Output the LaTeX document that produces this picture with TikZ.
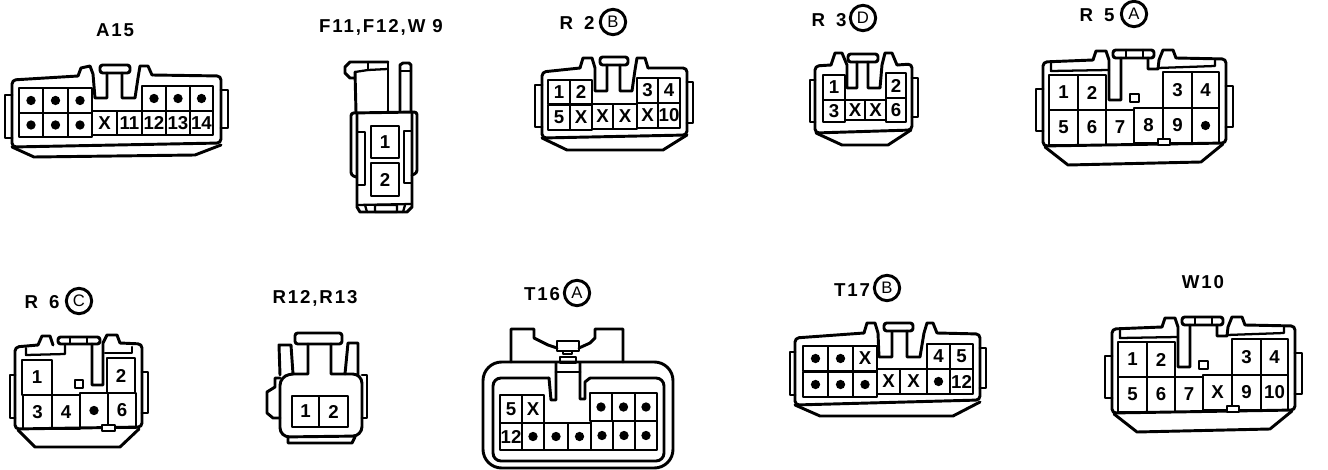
\documentclass[tikz,border=0pt]{standalone}
\usepackage{fontspec}
\setmainfont{Liberation Sans}
\newfontfamily\ttl[LetterSpace=10]{Liberation Sans}
\newcount\nodeno
\newcommand{\gapsp}{\hspace{1.5pt} \hspace{1.5pt}}
\tikzset{
  body/.style={line width=2.2pt,line join=round,line cap=round},
  thin/.style={line width=1.7pt,line join=round,line cap=round},
  pinlabel/.style={inner sep=0pt,font=\fontsize{14}{14}\selectfont\bfseries},
  title/.style={inner sep=0pt,font=\ttl\fontsize{14}{14}\selectfont\bfseries},
  badge/.style={circle,draw,line width=2.2pt,inner sep=0pt,minimum size=19pt,font=\fontsize{12.5}{12.5}\selectfont},
}
\def\dk{D}
% cells in one row: y1, y2, list of x1/x2/content (D = dot)
\newcommand{\cellrow}[3]{%
  \foreach \a/\b/\t in {#3}{%
    \draw[thin] (\a,#1) rectangle (\b,#2);
    \edef\tmp{\t}%
    \ifx\tmp\dk
      \fill ({(\a+\b)/2},{(#1+#2)/2}) circle (3.5pt);
    \else
      \global\advance\nodeno by 1
      \node[pinlabel] (pin\the\nodeno) at ({(\a+\b)/2},{(#1+#2)/2}) {\t};
    \fi
  }%
}
% the ten-way housing shared by R5 and W10 (drawn at W10 position)
\newcommand{\tenbody}{%
  \draw[body,rounded corners=3pt] (1162,327) -- (1112,329) -- (1112,413) -- (1295,410) -- (1295,326) -- (1245,325);
  \draw[body] (1162,327) -- (1165,318) -- (1175,318) -- (1178,327) -- (1178,367) -- (1190,367) -- (1190,325);
  \draw[body] (1217,325) -- (1217,336) -- (1227,336) -- (1228,327) -- (1232,317) -- (1242,317) -- (1245,325);
  \draw[body,rounded corners=2pt] (1182,317) rectangle (1223,325);
  \draw[thin] (1195,317) -- (1195,325) (1212,317) -- (1212,325);
  \draw[thin] (1120,330) -- (1120,338) -- (1178,337);
  \draw[thin] (1227,335) -- (1284,333) -- (1284,327);
  \draw[thin] (1199,361) rectangle (1208,369);
  \draw[body] (1112,356) -- (1105,356) -- (1105,398) -- (1112,398);
  \draw[body] (1295,353) -- (1302,353) -- (1302,394) -- (1295,394);
  \draw[body] (1114,414) -- (1137,432) -- (1270,429) -- (1292,411);
  \cellrow{342}{377}{1118/1147/1,1147/1175/2}
  \cellrow{339}{375}{1232/1261/3,1261/1288/4}
}
\begin{document}
\begin{tikzpicture}[x=0.75pt,y=-0.75pt]
\fill[white] (0,0) rectangle (1328,470);
\useasboundingbox (0,0) rectangle (1328,470);

% ---------- A15
\node[title] (tA) at (115,30) {A15};
\draw[body,rounded corners=3pt] (78,76) -- (12,80) -- (12,147) -- (221,143) -- (221,76) -- (152,75);
\draw[body] (78,76) -- (81,68) -- (90,66) -- (93,74) -- (95,98) -- (107,98) -- (107,73);
\draw[body] (122,73) -- (122,98) -- (135,98) -- (138,78) -- (140,66) -- (148,66) -- (152,75);
\draw[body,rounded corners=2pt] (100,65) rectangle (130,73);
\draw[body] (12,95) -- (5,95) -- (5,138) -- (12,138);
\draw[body] (221,90) -- (228,90) -- (228,128) -- (221,128);
\draw[body] (12,147) -- (34,157) -- (195,155) -- (221,145);
\cellrow{88}{113}{19/43/D,43/68/D,68/92/D}
\cellrow{113}{137}{19/43/D,43/68/D,68/92/D}
\cellrow{86}{111}{142/166/D,166/190/D,190/213/D}
\cellrow{111}{135}{92/117/X,117/142/11,142/166/12,166/190/13,190/213/14}

% ---------- F11, F12, W9
\node[title] (tF) at (381,27) {F11,F12,W 9};
\draw[body] (388,62) -- (350,62) -- (345,67) -- (345,73) -- (350,78) -- (355,78);
\draw[body] (388,62) -- (388,111);
\draw[thin] (368,62) -- (368,70);
\draw[thin] (355,72) -- (368,70) -- (388,69);
\draw[body] (355,72) -- (356,112);
\draw[body] (400,111) -- (400,65) -- (403,63) -- (409,63) -- (411,65) -- (411,111);
\draw[thin] (401,71) -- (411,71);
\draw[body,rounded corners=2pt] (356,177) -- (351,175) -- (351,113) -- (417,112) -- (417,173) -- (412,175);
\draw[body] (357,113) -- (357,207) -- (360,212) -- (407,212) -- (412,207) -- (412,112);
\draw[thin] (357,205) -- (412,204);
\draw[thin] (365,205) -- (367,212) (375,205) rectangle (397,212) (405,205) -- (403,212);
\draw[thin] (358,132) -- (365,132) -- (365,185) -- (358,185);
\draw[thin] (411,131) -- (404,131) -- (404,183) -- (411,183);
\cellrow{126}{158}{371/399/1}
\cellrow{163}{196}{371/399/2}

% ---------- R2
\node[title] (tR2) at (577,23) {R\gapsp 2};
\node[badge] (bR2) at (613,22) {B};
\draw[body,rounded corners=3pt] (580,68) -- (542,72) -- (542,138) -- (687,135) -- (687,68) -- (648,68);
\draw[body] (580,68) -- (583,58) -- (592,58) -- (595,68) -- (595,91) -- (607,91) -- (607,65);
\draw[body] (620,65) -- (620,91) -- (632,91) -- (635,70) -- (637,58) -- (645,58) -- (648,68);
\draw[body,rounded corners=2pt] (600,57) rectangle (628,65);
\draw[body] (542,85) -- (535,85) -- (535,127) -- (542,127);
\draw[body] (687,82) -- (693,82) -- (693,123) -- (687,123);
\draw[body] (542,138) -- (567,150) -- (663,150) -- (687,135);
\cellrow{80}{104}{548/570/1,570/592/2}
\cellrow{105}{130}{548/570/5,570/592/X}
\cellrow{104}{129}{592/613/X,613/637/X}
\cellrow{78}{103}{637/658/3,658/680/4}
\cellrow{103}{128}{637/658/X,658/680/10}

% ---------- R3
\node[title] (tR3) at (829,20) {R\gapsp 3};
\node[badge] (bR3) at (863,18) {D};
\draw[body,rounded corners=3pt] (831,65) -- (815,66) -- (815,133) -- (912,130) -- (912,64) -- (897,65);
\draw[body] (831,65) -- (835,53) -- (842,53) -- (847,65) -- (847,88) -- (857,88) -- (857,62);
\draw[body] (868,62) -- (868,88) -- (880,88) -- (882,65) -- (885,53) -- (892,53) -- (897,65);
\draw[body,rounded corners=2pt] (848,54) rectangle (878,62);
\draw[body] (815,80) -- (810,80) -- (810,122) -- (815,122);
\draw[body] (912,78) -- (918,78) -- (918,117) -- (912,117);
\draw[body] (816,133) -- (842,145) -- (888,145) -- (911,130);
\cellrow{75}{100}{823/845/1}
\cellrow{100}{122}{823/845/3}
\cellrow{100}{120}{845/865/X,865/886/X}
\cellrow{73}{98}{886/906/2}
\cellrow{98}{122}{886/906/6}

% ---------- R5
\node[title] (tR5) at (1097,15) {R\gapsp 5};
\node[badge] (bR5) at (1134,14) {A};
\begin{scope}[shift={(-69,-267)}]
\tenbody
\cellrow{377}{412}{1118/1147/5,1147/1175/6,1175/1203/7}
\cellrow{375}{410}{1203/1232/8,1232/1261/9,1261/1288/D}
\draw[thin,fill=white] (1227,406) rectangle (1239,412);
\end{scope}

% ---------- R6
\node[title] (tR6) at (42,302) {R\gapsp 6};
\node[badge] (bR6) at (79,301) {C};
\draw[body,rounded corners=3pt] (38,345) -- (15,347) -- (15,429) -- (142,427) -- (142,344) -- (120,343);
\draw[body] (38,345) -- (42,336) -- (50,336) -- (53,345);
\draw[body] (92,344) -- (92,385) -- (103,385) -- (103,343) -- (107,335) -- (117,335) -- (120,343);
\draw[body,rounded corners=2pt] (58,337) rectangle (100,344);
\draw[thin] (70,337) -- (70,344) (87,337) -- (87,344);
\draw[thin] (26,348) -- (26,355) -- (65,354) -- (65,344);
\draw[thin] (105,353) -- (132,353) -- (132,347);
\draw[thin] (75,380) rectangle (83,388);
\draw[body] (15,375) -- (10,375) -- (10,418) -- (15,418);
\draw[body] (142,372) -- (148,372) -- (148,413) -- (142,413);
\draw[body] (18,430) -- (35,447) -- (120,447) -- (139,429);
\cellrow{360}{395}{22/52/1}
\cellrow{358}{393}{107/135/2}
\cellrow{395}{429}{23/52/3,52/80/4}
\cellrow{393}{428}{80/108/D,108/136/6}
\draw[thin,fill=white] (102,425) rectangle (115,431);

% ---------- R12, R13
\node[title] (tR12) at (315,298) {R12,R13};
\draw[body,rounded corners=2pt] (295,333) rectangle (342,344);
\draw[body] (280,375) -- (279,345) -- (291,345) -- (293,374) -- (308,374) -- (308,344);
\draw[body] (331,344) -- (331,374) -- (345,374) -- (348,343) -- (358,343) -- (358,375);
\draw[body,rounded corners=7pt] (293,374) -- (280,376) -- (280,437) -- (362,436) -- (362,374) -- (345,374);
\draw[body] (280,378) -- (275,378) -- (275,387) -- (267,392) -- (267,413) -- (273,418) -- (280,418);
\draw[body] (362,375) -- (367,375) -- (367,418) -- (362,418);
\draw[body] (288,437) -- (288,443) -- (352,443) -- (355,437);
\cellrow{396}{427}{292/319/1,319/348/2}

% ---------- T16
\node[title] (tT16) at (542,294) {T16};
\node[badge] (bT16) at (577,293) {A};
\draw[body,rounded corners=14pt] (483,362) rectangle (673,468);
\draw[body,rounded corners=6pt] (549,378) -- (493,378) -- (493,461) -- (664,461) -- (664,378) -- (590,378);
\draw[body] (556,363) -- (556,400) -- (551,400) -- (549,378);
\draw[body] (580,363) -- (580,399) -- (585,399) -- (585,382) -- (590,378);
\draw[body] (556,372) -- (580,372);
\draw[body] (511,362) -- (511,329) -- (534,329) -- (534,338) -- (548,345) -- (557,348);
\draw[body] (579,348) -- (590,343) -- (595,338) -- (595,329) -- (623,329) -- (623,362);
\draw[thin] (557,341) rectangle (579,351);
\draw[thin] (563,351) rectangle (572,354);
\draw[thin] (560,357) rectangle (576,363);
\cellrow{395}{423}{500/522/5,522/544/X}
\cellrow{393}{421}{590/612/D,612/635/D,635/657/D}
\cellrow{423}{450}{500/522/12,522/544/D,544/568/D,568/591/D}
\cellrow{421}{450}{591/613/D,613/635/D,635/657/D}

% ---------- T17
\node[title] (tT17) at (852,290) {T17};
\node[badge] (bT17) at (887,288) {B};
\draw[body,rounded corners=3pt] (864,333) -- (795,338) -- (795,405) -- (980,400) -- (980,334) -- (937,333);
\draw[body] (864,333) -- (867,323) -- (875,323) -- (878,333) -- (879,357) -- (892,357) -- (892,332);
\draw[body] (907,331) -- (907,357) -- (920,357) -- (924,333) -- (927,323) -- (933,323) -- (937,333);
\draw[body,rounded corners=2pt] (884,323) rectangle (913,331);
\draw[body] (795,352) -- (790,352) -- (790,395) -- (795,395);
\draw[body] (980,348) -- (986,348) -- (986,388) -- (980,388);
\draw[body] (795,405) -- (820,416) -- (953,416) -- (980,402);
\cellrow{346}{371}{803/828/D,828/853/D,853/877/X}
\cellrow{372}{397}{803/828/D,828/853/D,853/877/D}
\cellrow{369}{394}{877/900/X,900/927/X,927/950/D,950/973/12}
\cellrow{344}{369}{927/950/4,950/973/5}

% ---------- W10
\node[title] (tW10) at (1203,282) {W10};
\tenbody
\cellrow{377}{412}{1118/1147/5,1147/1175/6,1175/1203/7}
\cellrow{375}{410}{1203/1232/X,1232/1261/9,1261/1288/10}
\draw[thin,fill=white] (1227,406) rectangle (1239,412);
\end{tikzpicture}
\end{document}
